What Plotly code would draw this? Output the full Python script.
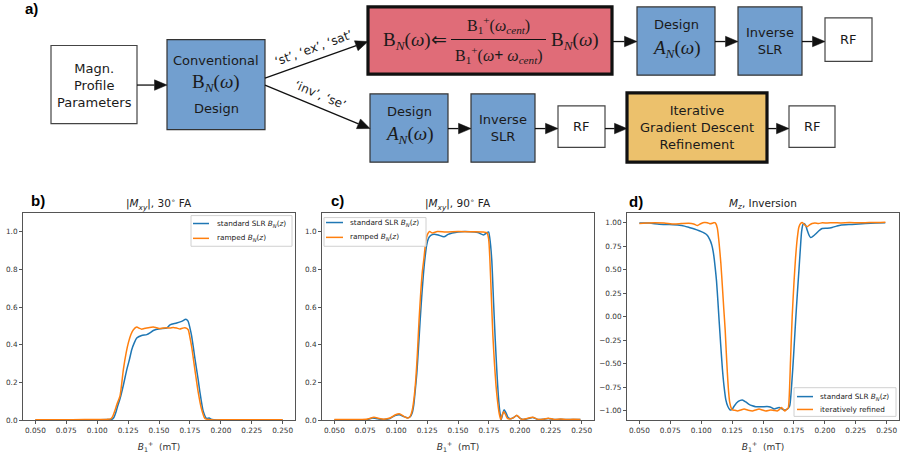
import math
import plotly.graph_objects as go

W, H = 900, 455

# ---------------- data ----------------
x_ticks = [0.050, 0.075, 0.100, 0.125, 0.150, 0.175, 0.200, 0.225, 0.250]
mxy_ticks = [0.0, 0.2, 0.4, 0.6, 0.8, 1.0]
mz_ticks = [-1.00, -0.75, -0.50, -0.25, 0.00, 0.25, 0.50, 0.75, 1.00]

# b) |Mxy|, 30 deg FA
b_std_x = [0.050, 0.070, 0.090, 0.100, 0.108, 0.112, 0.1135, 0.1150, 0.1165, 0.1185, 0.1213, 0.1240, 0.1260,
           0.1280, 0.1300, 0.1320, 0.1360, 0.1401, 0.1430, 0.1454, 0.1508, 0.1562, 0.1589, 0.1643, 0.1683,
           0.1718, 0.1735, 0.1750, 0.1763, 0.1777, 0.1790, 0.1804, 0.1818, 0.1831, 0.1857, 0.1885, 0.1905,
           0.1930, 0.1970, 0.2050, 0.2200, 0.2350, 0.2500]
b_std_y = [0.002, 0.002, 0.003, 0.003, 0.004, 0.006, 0.015, 0.040, 0.075, 0.115, 0.190, 0.270, 0.320,
           0.375, 0.410, 0.436, 0.449, 0.454, 0.465, 0.476, 0.485, 0.488, 0.506, 0.515, 0.524,
           0.535, 0.525, 0.490, 0.450, 0.390, 0.330, 0.270, 0.210, 0.150, 0.050, 0.010, 0.012,
           0.004, 0.002, 0.002, 0.002, 0.002, 0.002]
b_ramp_x = [0.050, 0.070, 0.090, 0.100, 0.108, 0.111, 0.1125, 0.1140, 0.1160, 0.1185, 0.1212, 0.1235, 0.1252,
            0.1273, 0.1293, 0.1320, 0.1340, 0.1360, 0.1380, 0.1401, 0.1425, 0.1454, 0.1480, 0.1508, 0.1535,
            0.1562, 0.1590, 0.1615, 0.1642, 0.1669, 0.1690, 0.1710, 0.1736, 0.1750, 0.1764, 0.1790, 0.1817,
            0.1844, 0.1871, 0.1900, 0.1950, 0.2050, 0.2200, 0.2350, 0.2500]
b_ramp_y = [0.003, 0.003, 0.004, 0.004, 0.005, 0.008, 0.020, 0.045, 0.085, 0.130, 0.270, 0.360, 0.410,
            0.455, 0.480, 0.494, 0.488, 0.483, 0.486, 0.489, 0.492, 0.494, 0.490, 0.486, 0.489,
            0.490, 0.489, 0.492, 0.489, 0.484, 0.488, 0.490, 0.480, 0.440, 0.390, 0.270, 0.150,
            0.060, 0.010, 0.004, 0.002, 0.003, 0.003, 0.003, 0.003]

# c) |Mxy|, 90 deg FA
c_std_x = [0.050, 0.060, 0.070, 0.077, 0.081, 0.085, 0.090, 0.095, 0.099, 0.1025, 0.106, 0.1095, 0.1115,
           0.1130, 0.1142, 0.1153, 0.1167, 0.1180, 0.1193, 0.1206, 0.1220, 0.1233, 0.1247, 0.1262, 0.1280,
           0.1306, 0.1340, 0.1386, 0.1420, 0.1453, 0.1500, 0.1600, 0.1660, 0.1707, 0.1730, 0.1747, 0.1758,
           0.1773, 0.1788, 0.1801, 0.1816, 0.1830, 0.1842, 0.1850, 0.1862, 0.1873, 0.1888, 0.1905, 0.1927,
           0.1950, 0.1975, 0.2000, 0.2030, 0.2070, 0.2104, 0.2149, 0.2190, 0.2230, 0.2280, 0.2330, 0.2380,
           0.2430, 0.2490]
c_std_y = [0.002, 0.003, 0.002, 0.005, 0.012, 0.008, 0.004, 0.010, 0.025, 0.030, 0.020, 0.013, 0.020,
           0.040, 0.080, 0.150, 0.250, 0.380, 0.520, 0.650, 0.770, 0.860, 0.930, 0.965, 0.980,
           0.986, 0.982, 0.972, 0.985, 0.992, 0.998, 0.999, 0.995, 0.982, 0.992, 0.998, 0.960,
           0.850, 0.620, 0.430, 0.240, 0.100, 0.030, 0.005, 0.035, 0.056, 0.040, 0.015, 0.008,
           0.015, 0.026, 0.012, 0.004, 0.010, 0.015, 0.004, 0.006, 0.010, 0.004, 0.006, 0.004,
           0.005, 0.004]
c_ramp_x = [0.050, 0.060, 0.070, 0.077, 0.082, 0.086, 0.090, 0.095, 0.099, 0.1025, 0.106, 0.1092, 0.111,
            0.1122, 0.1132, 0.1145, 0.1159, 0.1172, 0.1185, 0.1198, 0.1212, 0.1225, 0.1239, 0.1253, 0.1270,
            0.1293, 0.1333, 0.1400, 0.1500, 0.1600, 0.1700, 0.1735, 0.1748, 0.1758, 0.1770, 0.1782, 0.1795,
            0.1808, 0.1822, 0.1835, 0.1846, 0.1858, 0.1870, 0.1881, 0.1900, 0.1927, 0.1950, 0.1975, 0.2000,
            0.2016, 0.2060, 0.2104, 0.2149, 0.2190, 0.2230, 0.2280, 0.2330, 0.2380, 0.2430, 0.2490]
c_ramp_y = [0.005, 0.004, 0.004, 0.007, 0.016, 0.010, 0.006, 0.012, 0.028, 0.035, 0.022, 0.012, 0.018,
            0.035, 0.060, 0.120, 0.220, 0.360, 0.530, 0.670, 0.790, 0.860, 0.946, 0.985, 1.000,
            0.992, 1.000, 0.998, 1.000, 0.999, 0.998, 0.993, 0.960, 0.850, 0.650, 0.450, 0.300,
            0.180, 0.090, 0.030, 0.003, 0.030, 0.045, 0.035, 0.010, 0.008, 0.014, 0.027, 0.012,
            0.005, 0.010, 0.016, 0.005, 0.006, 0.011, 0.005, 0.007, 0.004, 0.006, 0.005]

# d) Mz, Inversion
d_std_x = [0.050, 0.058, 0.0661, 0.0745, 0.0823, 0.0865, 0.0903, 0.0945, 0.0984, 0.1015, 0.1038, 0.1055,
           0.1065, 0.1076, 0.1086, 0.1096, 0.1105, 0.1115, 0.1124, 0.1135, 0.1145, 0.1158, 0.1172, 0.1185,
           0.1199, 0.1215, 0.1234, 0.1250, 0.1266, 0.1300, 0.1333, 0.1360, 0.1387, 0.1414, 0.1441, 0.1494,
           0.1548, 0.1570, 0.1589, 0.1630, 0.1650, 0.1670, 0.1696, 0.1715, 0.1731, 0.1748, 0.1764, 0.1778,
           0.1790, 0.1802, 0.1812, 0.1822, 0.1831, 0.1845, 0.1857, 0.1871, 0.1885, 0.1905, 0.1925, 0.1950,
           0.1978, 0.2020, 0.2059, 0.2095, 0.2126, 0.2220, 0.2328, 0.2410, 0.2489]
d_std_y = [0.995, 0.994, 0.982, 0.978, 0.972, 0.962, 0.948, 0.932, 0.913, 0.895, 0.878, 0.855,
           0.830, 0.800, 0.760, 0.700, 0.620, 0.500, 0.380, 0.170, -0.040, -0.300, -0.560, -0.740,
           -0.880, -0.950, -0.990, -0.985, -0.950, -0.900, -0.885, -0.905, -0.930, -0.945, -0.955, -0.955,
           -0.955, -0.965, -0.980, -0.965, -0.975, -0.990, -0.980, -0.950, -0.740, -0.400, -0.040, 0.250,
           0.480, 0.720, 0.900, 0.975, 0.990, 0.970, 0.920, 0.870, 0.840, 0.855, 0.878, 0.910,
           0.937, 0.940, 0.948, 0.962, 0.972, 0.980, 0.990, 0.995, 0.997]
d_ref_x = [0.050, 0.056, 0.062, 0.070, 0.078, 0.084, 0.090, 0.094, 0.097, 0.100, 0.1025, 0.105, 0.107,
           0.109, 0.1105, 0.1118, 0.1131, 0.1145, 0.1159, 0.1172, 0.1183, 0.1194, 0.1203, 0.1212, 0.1222,
           0.1231, 0.1243, 0.1253, 0.1273, 0.1293, 0.1320, 0.1347, 0.1380, 0.1414, 0.1440, 0.1468, 0.1495,
           0.1522, 0.1562, 0.1588, 0.1615, 0.1633, 0.1650, 0.1665, 0.1677, 0.1690, 0.1704, 0.1712, 0.1723,
           0.1736, 0.1750, 0.1763, 0.1777, 0.1790, 0.1804, 0.1817, 0.1837, 0.1857, 0.1877, 0.1897, 0.1920,
           0.1950, 0.1980, 0.2020, 0.2070, 0.2130, 0.2200, 0.2280, 0.2360, 0.2430, 0.2490]
d_ref_y = [0.990, 0.995, 0.998, 0.995, 0.985, 0.990, 0.993, 0.985, 0.968, 0.990, 1.000, 0.998, 0.987,
           0.992, 1.000, 0.990, 0.937, 0.780, 0.570, 0.310, 0.080, -0.140, -0.380, -0.600, -0.800,
           -0.910, -0.970, -0.990, -0.993, -1.000, -0.990, -0.980, -0.992, -1.000, -0.990, -0.980, -0.990,
           -1.000, -0.990, -0.995, -1.000, -0.985, -0.965, -0.985, -1.000, -0.985, -0.970, -0.850, -0.450,
           0.000, 0.350, 0.620, 0.830, 0.950, 0.990, 1.000, 0.975, 0.955, 0.975, 0.990, 0.995,
           0.990, 0.997, 0.995, 0.998, 0.996, 0.999, 0.997, 1.000, 1.000, 1.002]

panel_titles = ["|<i>M<sub>xy</sub></i>|, 30<sup>∘</sup> FA",
                "|<i>M<sub>xy</sub></i>|, 90<sup>∘</sup> FA",
                "<i>M<sub>z</sub></i>, Inversion"]
legend_b = ["standard SLR <i>B<sub>N</sub></i>(<i>z</i>)", "ramped <i>B<sub>N</sub></i>(<i>z</i>)"]
legend_d = ["standard SLR <i>B<sub>N</sub></i>(<i>z</i>)", "iteratively refined"]
x_label = "<i>B</i><sub>1</sub><sup>+</sup>  (mT)"

# ---------------- styling ----------------
C_BLUE, C_ORANGE = "#1f77b4", "#ff7f0e"
BOX_BLUE, BOX_RED, BOX_YEL = "#729fcf", "#e06c78", "#ecc16c"
SANS = "DejaVu Sans"
SERIF = "Liberation Serif"


def P(x, y):
    return x / W, 1 - y / H


fig = go.Figure()


def add_curve(x, y, name, color, xa, ya):
    fig.add_trace(go.Scatter(x=x, y=y, name=name, mode="lines",
                             line=dict(color=color, width=1.5, shape="spline", smoothing=0.6),
                             xaxis=xa, yaxis=ya, showlegend=False, hoverinfo="skip"))


add_curve(b_std_x, b_std_y, "standard SLR B_N(z)", C_BLUE, "x", "y")
add_curve(b_ramp_x, b_ramp_y, "ramped B_N(z)", C_ORANGE, "x", "y")
add_curve(c_std_x, c_std_y, "standard SLR B_N(z)", C_BLUE, "x2", "y2")
add_curve(c_ramp_x, c_ramp_y, "ramped B_N(z)", C_ORANGE, "x2", "y2")
add_curve(d_std_x, d_std_y, "standard SLR B_N(z)", C_BLUE, "x3", "y3")
add_curve(d_ref_x, d_ref_y, "iteratively refined", C_ORANGE, "x3", "y3")

ax_common = dict(showline=True, mirror=True, linecolor="#555", linewidth=1, ticks="outside",
                 ticklen=3, tickwidth=1, tickcolor="#555", showgrid=False, zeroline=False,
                 tickfont=dict(family=SANS, size=7.3, color="#333"), fixedrange=True,
                 ticklabeloverflow="allow")

ydom = [1 - 425 / H, 1 - 215 / H]
xdoms = [[23 / W, 295 / W], [322 / W, 594 / W], [627 / W, 899 / W]]


def xax(i):
    return dict(ax_common, domain=xdoms[i], range=[0.04, 0.26], tickvals=x_ticks, tickformat=".3f",
                anchor="y" if i == 0 else f"y{i+1}",
                title=dict(text=x_label, font=dict(family=SANS, size=9, color="#333"), standoff=9))


fig.update_layout(
    width=W, height=H, margin=dict(l=0, r=0, t=0, b=0), autosize=False,
    paper_bgcolor="white", plot_bgcolor="white", showlegend=False,
    xaxis=xax(0), xaxis2=xax(1), xaxis3=xax(2),
    yaxis=dict(ax_common, domain=ydom, range=[0, 1.1], tickvals=mxy_ticks, tickformat=".1f", anchor="x"),
    yaxis2=dict(ax_common, domain=ydom, range=[0, 1.1], tickvals=mxy_ticks, tickformat=".1f", anchor="x2"),
    yaxis3=dict(ax_common, domain=ydom, range=[-1.1, 1.105], tickvals=mz_ticks, tickformat=".2f", anchor="x3"),
)

shapes = []
annots = []


def text(x, y, s, size=13, family=SANS, color="#1a1a1a", xanchor="center", angle=0, bold=False):
    px_, py_ = P(x, y)
    annots.append(dict(x=px_, y=py_, xref="paper", yref="paper", text=(f"<b>{s}</b>" if bold else s),
                       showarrow=False, xanchor=xanchor, yanchor="middle", textangle=angle,
                       font=dict(family=family, size=size, color=color)))


# panel titles, labels
for i, t in enumerate(panel_titles):
    cx = (xdoms[i][0] + xdoms[i][1]) / 2 * W
    text(cx, 206, t, size=10.5, color="#222")
text(31, 9, "a)", size=15, family="Liberation Sans", color="black", bold=True)
text(38, 203, "b)", size=15, family="Liberation Sans", color="black", bold=True)
text(337, 203, "c)", size=15, family="Liberation Sans", color="black", bold=True)
text(636, 204, "d)", size=15, family="Liberation Sans", color="black", bold=True)


# legends (drawn manually to match matplotlib look)
def legend(x0, y0, x1, y1, labels, lx0, lx1, tx, ys):
    a, b = P(x0, y0)
    c, d = P(x1, y1)
    shapes.append(dict(type="rect", xref="paper", yref="paper", x0=a, x1=c, y0=d, y1=b,
                       fillcolor="rgba(255,255,255,0.85)", line=dict(color="#d0d0d0", width=1)))
    for lab, col, yy in zip(labels, [C_BLUE, C_ORANGE], ys):
        p0 = P(lx0, yy)
        p1 = P(lx1, yy)
        shapes.append(dict(type="line", xref="paper", yref="paper", x0=p0[0], y0=p0[1], x1=p1[0], y1=p1[1],
                           line=dict(color=col, width=1.5)))
        text(tx, yy, lab, size=7.3, color="#222", xanchor="left")


legend(191, 218, 292, 249, legend_b, 193, 209, 215, [226, 241])
legend(324, 220, 426, 249, legend_b, 326, 343, 348, [225, 240])
legend(794, 392, 896, 421, legend_d, 797, 813, 818, [401, 414])

# ---------------- flow chart ----------------
boxes = [
    (51, 46, 137, 125, "white", 1.2, "#444"),
    (167, 40, 265, 131, BOX_BLUE, 1.2, "#333"),
    (368, 7, 612, 75, BOX_RED, 3.2, "#111"),
    (637, 7, 715, 76, BOX_BLUE, 1.2, "#333"),
    (738, 7, 802, 76, BOX_BLUE, 1.2, "#333"),
    (825, 18, 872, 62, "white", 1.2, "#444"),
    (370, 95, 448, 164, BOX_BLUE, 1.2, "#333"),
    (471, 95, 535, 164, BOX_BLUE, 1.2, "#333"),
    (558, 107, 605, 149, "white", 1.2, "#444"),
    (627, 94, 767, 164, BOX_YEL, 3.2, "#111"),
    (789, 107, 835, 149, "white", 1.2, "#444"),
]
for (x0, y0, x1, y1, fc, lw, lc) in boxes:
    a, b = P(x0, y0)
    c, d = P(x1, y1)
    shapes.append(dict(type="rect", xref="paper", yref="paper", x0=a, x1=c, y0=d, y1=b,
                       fillcolor=fc, line=dict(color=lc, width=lw)))

arrows = [((137, 86), (167, 86)), ((265, 79), (368, 42)), ((265, 86), (370, 130)),
          ((612, 42), (637, 42)), ((715, 42), (738, 42)), ((802, 42), (825, 42)),
          ((448, 130), (471, 130)), ((535, 130), (558, 130)), ((605, 130), (627, 130)),
          ((767, 130), (789, 130))]
for (xa, ya), (xb, yb) in arrows:
    dx, dy = xb - xa, yb - ya
    dd = math.hypot(dx, dy)
    ux, uy = dx / dd, dy / dd
    L, hw = 12.5, 5.3
    bx, by = xb - L * ux, yb - L * uy
    p0, p1 = P(xa, ya), P(bx, by)
    shapes.append(dict(type="line", xref="paper", yref="paper", x0=p0[0], y0=p0[1], x1=p1[0], y1=p1[1],
                       line=dict(color="#111", width=1.3)))
    t1 = P(xb, yb)
    t2 = P(bx - hw * uy, by + hw * ux)
    t3 = P(bx + hw * uy, by - hw * ux)
    path = f"M {t1[0]} {t1[1]} L {t2[0]} {t2[1]} L {t3[0]} {t3[1]} Z"
    shapes.append(dict(type="path", xref="paper", yref="paper", path=path, fillcolor="#111",
                       line=dict(color="#111", width=0.5)))

# fraction bar in the red box
fa, fb = P(451, 40), P(546, 40)
shapes.append(dict(type="line", xref="paper", yref="paper", x0=fa[0], y0=fa[1], x1=fb[0], y1=fb[1],
                   line=dict(color="#111", width=1.1)))

# box texts
text(94, 86, "Magn.<br>Profile<br>Parameters", size=13)
text(216, 61, "Conventional", size=13)
text(216, 84, "B<sub><i>N</i></sub>(<i>ω</i>)", size=19, family=SERIF)
text(216, 110, "Design", size=13)

text(449, 41, "B<sub><i>N</i></sub>(<i>ω</i>)⇐", size=19, family=SERIF, xanchor="right")
text(499, 25, "B<sub>1</sub><sup>+</sup>(<i>ω</i><sub><i>cent</i></sub>)", size=16, family=SERIF)
text(499, 56, "B<sub>1</sub><sup>+</sup>(<i>ω</i><b>+</b> <i>ω</i><sub><i>cent</i></sub>)", size=16, family=SERIF)
text(549, 41, "B<sub><i>N</i></sub>(<i>ω</i>)", size=19, family=SERIF, xanchor="left")

text(676, 25, "Design", size=13)
text(676, 50, "<i>A</i><sub><i>N</i></sub>(<i>ω</i>)", size=19, family=SERIF)
text(770, 41, "Inverse<br>SLR", size=13)
text(848.5, 40, "RF", size=13)

text(409, 113, "Design", size=13)
text(409, 137, "<i>A</i><sub><i>N</i></sub>(<i>ω</i>)", size=19, family=SERIF)
text(503, 129, "Inverse<br>SLR", size=13)
text(581.5, 128, "RF", size=13)
text(697, 129, "Iterative<br>Gradient Descent<br>Refinement", size=13)
text(812, 128, "RF", size=13)

text(314, 49, "‘st’, ‘ex’, ‘sat’", size=12, angle=-20)
text(320, 96, "‘inv’, ‘se’", size=12, angle=23)

fig.update_layout(shapes=shapes, annotations=annots)
fig.write_html("out.html", config={"displayModeBar": False, "staticPlot": True},
               post_script="document.body.style.margin='0';document.body.style.overflow='hidden';")
